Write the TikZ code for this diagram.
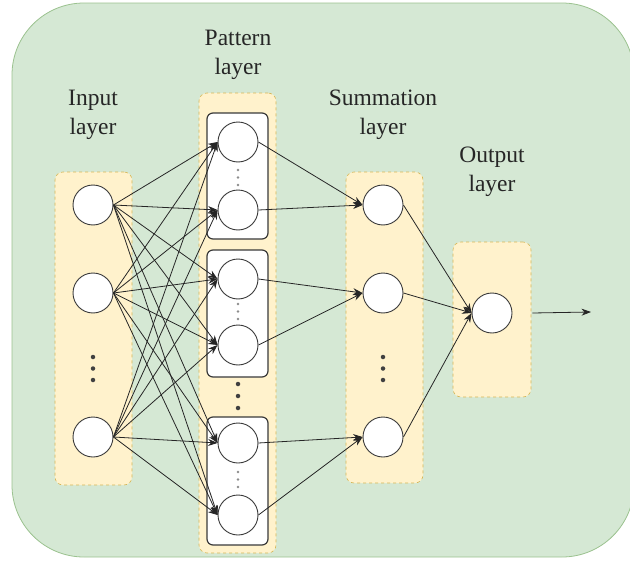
\documentclass[tikz,border=0pt]{standalone}
\usepackage{fontspec}
\setmainfont{Liberation Serif}
\usetikzlibrary{arrows.meta}
\definecolor{panelfill}{HTML}{D5E8D4}
\definecolor{panelline}{HTML}{9BC28F}
\definecolor{layerfill}{HTML}{FFF2CC}
\definecolor{layerline}{HTML}{D6B656}
\definecolor{inkline}{HTML}{3A3A3A}
\definecolor{labeltext}{HTML}{262626}
\begin{document}
\begin{tikzpicture}[x=1pt,y=-1pt,
  panel/.style={fill=panelfill, draw=panelline, line width=0.8pt, rounded corners=72pt},
  layerbox/.style={draw=layerline, fill=layerfill, dashed, line width=0.6pt, rounded corners=8pt, inner sep=0pt},
  groupbox/.style={draw=inkline, fill=white, line width=1.2pt, rounded corners=6pt, inner sep=0pt, minimum width=61pt},
  neuron/.style={circle, draw=inkline, fill=white, line width=0.9pt, minimum size=40pt, inner sep=0pt},
  link/.style={-{Stealth[length=9.5pt,width=7pt]}, line width=0.8pt, black!85},
  bigdot/.style={circle, fill=black!75, minimum size=4.5pt, inner sep=0pt},
  smalldot/.style={circle, fill=black!45, minimum size=2.6pt, inner sep=0pt},
  caption/.style={align=center, text=labeltext, font=\fontsize{23.5}{29.5}\selectfont}]
\useasboundingbox (0,0) rectangle (630,562);

% background panel
\draw[panel] (12,3) rectangle (634,557);

% layer boxes
\node[layerbox, minimum width=77pt, minimum height=313pt] (inbox) at (93.5,328.5) {};
\node[layerbox, minimum width=77pt, minimum height=460pt] (patbox) at (237.5,323) {};
\node[layerbox, minimum width=77pt, minimum height=311pt] (sumbox) at (384.5,327.5) {};
\node[layerbox, minimum width=78pt, minimum height=155pt] (outbox) at (492,319.5) {};

% pattern groups
\node[groupbox, minimum height=126pt] (g1) at (237.5,176) {};
\node[groupbox, minimum height=127pt] (g2) at (237.5,313.5) {};
\node[groupbox, minimum height=128pt] (g3) at (237.5,481) {};

% captions
\node[caption] (capin) at (93,115) {Input\\layer};
\node[caption] (cappat) at (238,55) {Pattern\\layer};
\node[caption] (capsum) at (383,115) {Summation\\layer};
\node[caption] (capout) at (492,172) {Output\\layer};

% input neurons
\node[neuron] (i1) at (93,205) {};
\node[neuron] (i2) at (93,293) {};
\node[neuron] (i3) at (93,437) {};
\node[bigdot] (id1) at (93,357) {};
\node[bigdot] (id2) at (93,368.5) {};
\node[bigdot] (id3) at (93,380) {};

% pattern neurons
\node[neuron] (p1) at (238,142) {};
\node[neuron] (p2) at (238,210) {};
\node[neuron] (p3) at (238,279) {};
\node[neuron] (p4) at (238,345) {};
\node[neuron] (p5) at (238,443) {};
\node[neuron] (p6) at (238,515) {};
\node[smalldot] (pa1) at (238,170) {};
\node[smalldot] (pa2) at (238,177.5) {};
\node[smalldot] (pa3) at (238,185) {};
\node[smalldot] (pb1) at (238,304) {};
\node[smalldot] (pb2) at (238,311.5) {};
\node[smalldot] (pb3) at (238,319) {};
\node[smalldot] (pc1) at (238,472) {};
\node[smalldot] (pc2) at (238,479.5) {};
\node[smalldot] (pc3) at (238,487) {};
\node[bigdot] (pd1) at (238,384) {};
\node[bigdot] (pd2) at (238,396) {};
\node[bigdot] (pd3) at (238,408) {};

% summation neurons
\node[neuron] (s1) at (383,205) {};
\node[neuron] (s2) at (383,293) {};
\node[neuron] (s3) at (383,437) {};
\node[bigdot] (sd1) at (383,357) {};
\node[bigdot] (sd2) at (383,368.5) {};
\node[bigdot] (sd3) at (383,380) {};

% output neuron
\node[neuron] (o) at (492,313) {};
\coordinate (out) at (591,312);

% input -> pattern (fully connected)
\foreach \a in {i1,i2,i3}
  \foreach \b in {p1,p2,p3,p4,p5,p6}
    \draw[link] (\a.east) -- (\b.west);

% pattern -> summation
\draw[link] (p1.east) -- (s1.west);
\draw[link] (p2.east) -- (s1.west);
\draw[link] (p3.east) -- (s2.west);
\draw[link] (p4.east) -- (s2.west);
\draw[link] (p5.east) -- (s3.west);
\draw[link] (p6.east) -- (s3.west);

% summation -> output
\draw[link] (s1.east) -- (o.west);
\draw[link] (s2.east) -- (o.west);
\draw[link] (s3.east) -- (o.west);

% output arrow
\draw[link] (o.east) ++(20pt,0) -- (out);
\end{tikzpicture}
\end{document}
